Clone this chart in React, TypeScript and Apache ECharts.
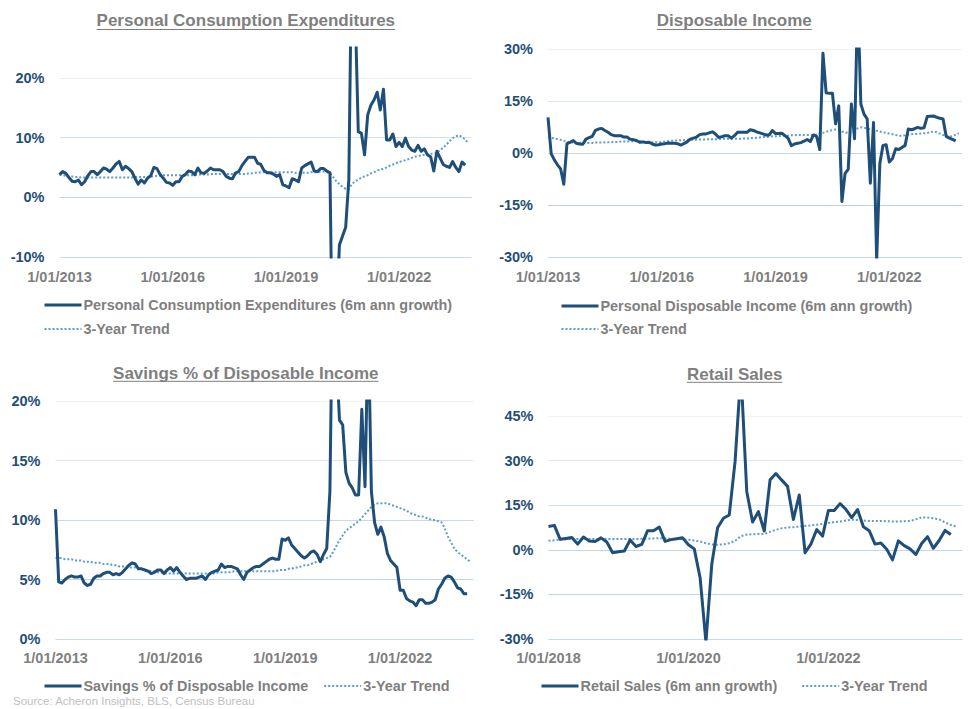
import React, { useEffect, useRef } from 'react';
import * as echarts from 'echarts';

const FONT = '"Liberation Sans", Arial, sans-serif';
const DARK = '#1f4e79';
const LIGHT = '#5b9bd5';
const GRAY = '#7f7f7f';
const TREND = '3-Year Trend';

function monthLabels(startYear: number, count: number): string[] {
  const out: string[] = [];
  for (let i = 0; i < count; i++) {
    const y = startYear + Math.floor(i / 12);
    const m = (i % 12) + 1;
    out.push(`1/${String(m).padStart(2, '0')}/${y}`);
  }
  return out;
}
const months2013 = monthLabels(2013, 132);
const months2018 = monthLabels(2018, 72);

const titles = [
  'Personal Consumption Expenditures',
  'Disposable Income',
  'Savings % of Disposable Income',
  'Retail Sales',
];
const seriesNames = [
  'Personal Consumption Expenditures (6m ann growth)',
  'Personal Disposable Income (6m ann growth)',
  'Savings % of Disposable Income',
  'Retail Sales (6m ann growth)',
];

// Personal Consumption Expenditures, 6m annualised growth (%), Jan 2013 - Oct 2023
const pce = [
  3.8, 4.3, 4.0, 3.3, 2.7, 2.6, 2.9, 2.1, 2.6, 3.6,
  4.3, 4.3, 3.8, 4.3, 4.9, 4.7, 4.3, 4.9, 5.6, 6.0,
  4.6, 5.2, 4.8, 4.3, 3.2, 2.2, 2.9, 2.4, 3.2, 3.6,
  5.0, 4.8, 3.8, 3.2, 2.5, 2.4, 2.0, 2.6, 2.6, 3.5,
  3.8, 4.4, 4.3, 3.8, 4.9, 4.1, 4.0, 4.4, 4.9, 4.6,
  4.6, 4.6, 4.3, 3.5, 3.2, 3.1, 4.1, 4.3, 5.3, 6.0,
  6.7, 6.7, 6.7, 5.7, 5.5, 4.5, 4.1, 4.1, 3.9, 3.5,
  3.8, 2.1, 1.9, 1.6, 3.1, 2.9, 2.6, 4.9, 5.3, 5.6,
  5.9, 4.4, 4.3, 4.8, 4.8, 4.4, 4.1, -35, -22, -8,
  -6.5, -5, 3, 45, 32, 11, 10.7, 7.1, 13.8, 15.4,
  16.3, 17.6, 14.6, 18.1, 9.6, 9.6, 10.6, 8.5, 9.2, 8.5,
  9.9, 8.5, 7.9, 7.7, 8.7, 7.7, 8.1, 7.1, 6.8, 4.4,
  7.7, 6.6, 5.5, 5.2, 5.0, 6.0, 5.0, 4.3, 5.9, 5.4,
];
const pceTrend = [
  3.8, 3.7, 3.6, 3.5, 3.5, 3.4, 3.4, 3.3, 3.3, 3.3,
  3.3, 3.3, 3.3, 3.3, 3.3, 3.3, 3.3, 3.3, 3.3, 3.3,
  3.3, 3.3, 3.3, 3.3, 3.4, 3.4, 3.4, 3.4, 3.4, 3.5,
  3.5, 3.6, 3.6, 3.7, 3.7, 3.7, 3.7, 3.7, 3.7, 3.7,
  3.7, 3.7, 3.7, 3.7, 3.8, 3.8, 3.8, 3.8, 3.9, 3.9,
  3.9, 3.9, 3.9, 3.9, 3.9, 3.9, 3.9, 3.9, 3.9, 3.9,
  4.0, 4.0, 4.1, 4.1, 4.2, 4.2, 4.2, 4.2, 4.2, 4.2,
  4.2, 4.2, 4.2, 4.2, 4.2, 4.1, 4.1, 4.1, 4.1, 4.1,
  4.2, 4.2, 4.2, 4.3, 4.3, 4.2, 4.0, 3.4, 2.7, 2.2,
  1.7, 1.4, 1.4, 2.2, 2.7, 3.0, 3.3, 3.5, 3.7, 4.0,
  4.2, 4.5, 4.6, 4.8, 5.0, 5.3, 5.5, 5.7, 5.9, 6.1,
  6.2, 6.4, 6.6, 6.8, 6.9, 7.0, 7.1, 7.2, 7.3, 7.3,
  7.4, 7.9, 8.3, 8.8, 9.4, 9.9, 10.2, 10.4, 10.1, 9.7,
  9.0,
];

// Personal Disposable Income, 6m annualised growth (%)
const income = [
  10.3, -0.2, -2.0, -3.4, -4.6, -9.0, 2.7, 3.1, 3.6, 2.8,
  2.6, 2.5, 4.0, 4.4, 4.8, 6.5, 6.9, 7.1, 6.5, 6.0,
  5.3, 5.0, 5.0, 5.0, 4.6, 4.6, 4.0, 3.8, 3.6, 3.1,
  3.2, 3.0, 3.1, 2.6, 2.3, 2.4, 2.6, 2.7, 2.9, 2.8,
  2.8, 2.7, 2.3, 2.7, 3.2, 4.0, 4.3, 4.6, 5.3, 5.5,
  5.5, 5.8, 6.1, 5.5, 4.5, 4.7, 5.0, 5.0, 4.3, 5.0,
  6.0, 6.0, 6.0, 6.0, 6.7, 6.5, 6.1, 5.8, 5.5, 5.2,
  5.2, 6.5, 5.6, 5.6, 5.7, 5.0, 4.2, 2.1, 2.6, 2.8,
  3.0, 3.4, 3.9, 3.3, 5.2, 4.8, 1.0, 28.8, 17.4, 17.2,
  17.2, 8.4, 13.6, -14, -5.9, -4.7, 14.1, 4.1, 45, 14.1,
  11.2, 9.8, -8.7, 8.8, -31, -3.0, 2.2, 2.4, -2.6, -1.6,
  1.2, 1.0, 1.6, 2.2, 6.9, 6.7, 7.0, 7.4, 7.1, 7.3,
  10.5, 10.6, 10.7, 10.3, 10.0, 9.8, 4.8, 4.3, 3.9, 3.5,
];
const incomeTrend = [
  4.6, 4.4, 4.2, 4.0, 3.8, 3.5, 3.3, 3.1, 3.0, 2.9,
  2.9, 2.9, 2.9, 2.9, 2.9, 3.0, 3.0, 3.0, 3.1, 3.1,
  3.1, 3.2, 3.2, 3.3, 3.3, 3.3, 3.4, 3.4, 3.4, 3.4,
  3.3, 3.2, 3.2, 3.1, 3.1, 3.1, 3.2, 3.3, 3.4, 3.5,
  3.6, 3.6, 3.7, 3.7, 3.8, 3.8, 3.8, 3.9, 3.9, 3.9,
  3.9, 4.0, 4.0, 4.0, 4.0, 4.1, 4.1, 4.1, 4.1, 4.1,
  4.1, 4.1, 4.2, 4.2, 4.3, 4.3, 4.4, 4.5, 4.6, 4.6,
  4.7, 4.8, 4.8, 4.9, 4.9, 5.0, 5.0, 5.1, 5.1, 5.2,
  5.2, 5.2, 5.2, 5.2, 5.2, 5.3, 5.5, 5.8, 6.1, 6.4,
  6.6, 6.8, 6.6, 6.2, 5.9, 5.8, 6.1, 6.6, 7.1, 7.4,
  7.3, 7.1, 6.8, 6.6, 6.4, 6.2, 6.0, 5.8, 5.6, 5.4,
  5.2, 5.0, 5.0, 5.1, 5.3, 5.4, 5.5, 5.5, 5.6, 5.7,
  5.8, 6.0, 6.2, 6.0, 5.6, 5.2, 4.9, 4.7, 4.9, 5.3,
  5.7,
];

// Savings as % of disposable income
const savings = [
  10.9, 4.8, 4.7, 5.0, 5.2, 5.3, 5.2, 5.2, 5.3, 4.7,
  4.5, 4.6, 5.1, 5.3, 5.3, 5.5, 5.6, 5.6, 5.4, 5.5,
  5.4, 5.6, 5.9, 6.2, 6.4, 6.3, 5.9, 5.9, 5.8, 5.7,
  5.5, 5.6, 5.8, 5.8, 5.5, 5.8, 6.0, 5.7, 6.0, 5.6,
  5.3, 5.0, 5.1, 5.1, 5.1, 5.2, 5.3, 5.0, 5.4, 5.6,
  5.7, 5.8, 6.3, 6.0, 6.1, 6.1, 6.0, 5.9, 5.4, 5.0,
  5.6, 5.8, 6.0, 6.1, 6.1, 6.3, 6.5, 6.7, 6.8, 6.7,
  6.7, 8.4, 8.3, 8.5, 7.9, 7.6, 7.3, 7.0, 6.8, 7.0,
  7.3, 7.4, 7.1, 6.5, 7.1, 7.6, 12.4, 33, 24, 18.4,
  18.0, 14.0, 13.1, 12.7, 12.1, 12.1, 19.3, 12.8, 26.6, 12.4,
  9.8, 8.8, 9.4, 8.6, 7.2, 6.6, 6.3, 6.0, 4.1, 4.1,
  3.4, 3.2, 3.1, 2.8, 3.3, 3.3, 3.0, 3.0, 3.1, 3.3,
  4.2, 4.6, 5.1, 5.3, 5.2, 4.8, 4.3, 4.2, 3.8, 3.8,
];
const savingsTrend = [
  6.8, 6.8, 6.8, 6.7, 6.7, 6.7, 6.6, 6.6, 6.6, 6.5,
  6.5, 6.5, 6.4, 6.4, 6.4, 6.3, 6.3, 6.3, 6.2, 6.2,
  6.1, 6.1, 6.1, 6.0, 6.0, 6.0, 5.9, 5.9, 5.8, 5.8,
  5.7, 5.7, 5.6, 5.6, 5.5, 5.5, 5.5, 5.5, 5.5, 5.5,
  5.5, 5.5, 5.5, 5.5, 5.5, 5.5, 5.5, 5.5, 5.5, 5.5,
  5.5, 5.6, 5.6, 5.6, 5.6, 5.6, 5.7, 5.7, 5.7, 5.7,
  5.7, 5.7, 5.7, 5.7, 5.7, 5.7, 5.7, 5.7, 5.7, 5.7,
  5.8, 5.8, 5.8, 5.9, 5.9, 6.0, 6.0, 6.1, 6.2, 6.2,
  6.3, 6.4, 6.5, 6.6, 6.7, 6.8, 6.9, 7.3, 7.8, 8.3,
  8.7, 9.1, 9.3, 9.5, 9.7, 9.9, 10.2, 10.5, 10.8, 11.1,
  11.3, 11.4, 11.4, 11.4, 11.4, 11.3, 11.2, 11.1, 11.0, 10.9,
  10.8, 10.6, 10.5, 10.4, 10.3, 10.3, 10.2, 10.1, 10.0, 10.0,
  9.9, 9.8, 9.3, 8.6, 8.1, 7.6, 7.3, 7.1, 6.9, 6.7,
  6.5,
];

// Retail sales, 6m annualised growth (%), Jan 2018 - Oct 2023
const retail = [
  7.8, 8.2, 3.5, 3.8, 4.1, 1.9, 4.3, 2.9, 2.8, 4.0,
  2.6, -1.0, -0.7, -0.4, 3.3, 1.1, 1.8, 6.4, 6.4, 7.6,
  2.8, 3.4, 3.7, 4.0, 1.7, 0.3, -9.4, -31, -4.9, 7.4,
  10.6, 11.7, 29.7, 60, 19.6, 9.3, 12.8, 6.3, 23.5, 25.6,
  23.4, 21.3, 10.2, 18.4, -1.0, 1.9, 6.8, 4.6, 13.2, 13.2,
  15.5, 13.6, 10.8, 13.5, 7.7, 6.4, 1.9, 2.3, 0.2, -3.4,
  3.0, 1.4, 0.3, -1.6, 2.1, 4.4, 0.5, 3.1, 6.5, 5.1,
];
const retailTrend = [
  3.0, 3.2, 3.4, 3.5, 3.6, 3.6, 3.6, 3.6, 3.6, 3.6,
  3.6, 3.6, 3.6, 3.6, 3.6, 3.6, 3.7, 3.7, 3.8, 3.9,
  3.8, 3.7, 3.6, 3.5, 3.4, 3.1, 2.8, 2.2, 1.8, 1.7,
  1.8, 2.2, 3.0, 4.6, 5.1, 5.2, 5.3, 5.3, 6.0, 6.7,
  7.2, 7.5, 7.6, 7.8, 8.0, 8.2, 8.4, 8.7, 9.0, 9.3,
  9.5, 9.8, 10.1, 10.0, 9.8, 9.7, 9.7, 9.7, 9.6, 9.5,
  9.5, 9.6, 9.7, 10.2, 10.9, 10.8, 10.6, 10.2, 9.2, 8.3,
  7.8,
];

const panels = [
  { cats: months2013, main: pce, trend: pceTrend, labelInterval: 35, min: -10, max: 25, step: 10,
    lines: ['#c8daed', '#c3d7eb', '#d4e2f0', '#f0f0f0', 'rgba(0,0,0,0)'], hideMax: true },
  { cats: months2013, main: income, trend: incomeTrend, labelInterval: 35, min: -30, max: 30, step: 15,
    lines: ['#c5d6e6', '#c0cfdd', '#c6d6e6', '#d9e6f2', '#eef2f6'], hideMax: false },
  { cats: months2013, main: savings, trend: savingsTrend, labelInterval: 35, min: 0, max: 20, step: 5,
    lines: ['#c5daee', '#bcd4ec', '#c9d9e8', '#dce6f0', '#f0f2f4'], hideMax: false },
  { cats: months2018, main: retail, trend: retailTrend, labelInterval: 23, min: -30, max: 50, step: 15,
    lines: ['#c5d8ec', '#bcd5ee', '#c4d6e6', '#cfe0ee', '#dde8f2', '#f0f2f4', 'rgba(0,0,0,0)'], hideMax: true },
];

const gridBoxes = [
  { left: 59.5, top: 48, width: 412, height: 209, labelMargin: 12 },
  { left: 548, top: 49, width: 414, height: 208, labelMargin: 12 },
  { left: 55.5, top: 401, width: 418, height: 238, labelMargin: 11 },
  { left: 548.5, top: 401, width: 414, height: 238, labelMargin: 11 },
];

const titlePos = [
  { x: 245.8, y: 20.7, base: 29.5 },
  { x: 734.3, y: 20.7, base: 29.5 },
  { x: 245.8, y: 373.0, base: 381.3 },
  { x: 734.7, y: 374.0, base: 382.3 },
];

const legendPos = [
  { left: 43, top: 298, orient: 'vertical', gap: 10 },
  { left: 560, top: 299, orient: 'vertical', gap: 9 },
  { left: 43, top: 679, orient: 'horizontal', gap: 15 },
  { left: 540, top: 679, orient: 'horizontal', gap: 24 },
];

export default function App() {
  const ref = useRef<HTMLDivElement>(null);
  useEffect(() => {
    document.body.style.margin = '0';
    if (!ref.current) return;
    const chart = echarts.init(ref.current, undefined, { renderer: 'svg' });

    const ctx = document.createElement('canvas').getContext('2d')!;
    ctx.font = `bold 17px ${FONT}`;

    const graphic: any[] = [];
    titles.forEach((t, i) => {
      const p = titlePos[i];
      const w = ctx.measureText(t).width;
      graphic.push({
        type: 'text', x: p.x, y: p.y, z: 10,
        style: { text: t, font: `bold 17px ${FONT}`, fill: GRAY, textAlign: 'center', textVerticalAlign: 'middle' },
      });
      graphic.push({
        type: 'line', z: 10,
        shape: { x1: p.x - w / 2, y1: p.base, x2: p.x + w / 2, y2: p.base },
        style: { stroke: GRAY, lineWidth: 1 },
      });
    });
    graphic.push({
      type: 'text', x: 13, y: 700.7,
      style: { text: 'Source: Acheron Insights, BLS, Census Bureau', font: `11.5px ${FONT}`, fill: '#bfbfbf', textAlign: 'left', textVerticalAlign: 'middle' },
    });

    const option: any = {
      animation: false,
      grid: gridBoxes.map((g) => ({ left: g.left, top: g.top, width: g.width, height: g.height, outerBoundsMode: 'none', containLabel: false })),
      xAxis: panels.map((p, i) => ({
        type: 'category', gridIndex: i, data: p.cats, boundaryGap: false,
        axisLine: { show: false }, axisTick: { show: false }, splitLine: { show: false },
        axisLabel: { interval: p.labelInterval, color: GRAY, fontWeight: 'bold', fontSize: 14.5, fontFamily: FONT, margin: gridBoxes[i].labelMargin, hideOverlap: false },
      })),
      yAxis: panels.map((p, i) => ({
        type: 'value', gridIndex: i, min: p.min, max: p.max, interval: p.step,
        axisLine: { show: false }, axisTick: { show: false },
        axisLabel: { formatter: '{value}%', color: DARK, fontWeight: 'bold', fontSize: 14.5, fontFamily: FONT, margin: 15, showMaxLabel: !p.hideMax },
        splitLine: { show: true, lineStyle: { color: p.lines, width: 1 } },
      })),
      legend: legendPos.map((l, i) => ({
        left: l.left, top: l.top, orient: l.orient, itemGap: l.gap,
        itemWidth: 37, itemHeight: 16, padding: 0,
        data: [seriesNames[i], TREND],
        textStyle: { color: GRAY, fontSize: 14.4, fontWeight: 'bold', fontFamily: FONT, padding: [0, 0, 0, -3] },
        itemStyle: { opacity: 0 },
        lineStyle: { width: 'inherit' },
        selectedMode: false,
      })),
      series: panels.flatMap((p, i) => [
        {
          type: 'line', name: TREND, xAxisIndex: i, yAxisIndex: i, data: p.trend, symbol: 'none', z: 2,
          lineStyle: { color: LIGHT, width: 2, type: [2, 2] }, itemStyle: { color: LIGHT },
        },
        {
          type: 'line', name: seriesNames[i], xAxisIndex: i, yAxisIndex: i, data: p.main, symbol: 'none', z: 3,
          lineStyle: { color: DARK, width: 3, join: 'round' }, itemStyle: { color: DARK },
        },
      ]),
      graphic,
    };
    chart.setOption(option);
    return () => chart.dispose();
  }, []);
  return <div ref={ref} style={{ width: 978, height: 709 }} />;
}
